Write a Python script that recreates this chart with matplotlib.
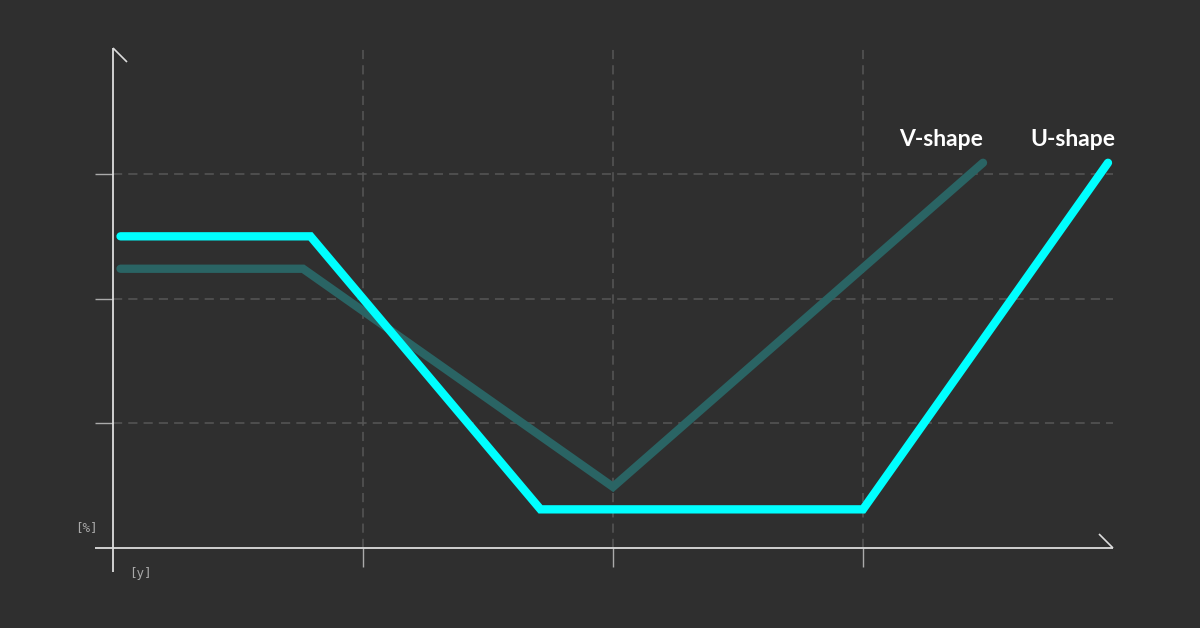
import matplotlib
matplotlib.use("Agg")
import matplotlib.pyplot as plt
from matplotlib.lines import Line2D

# data (x in grid steps, y in grid steps)
u_x = [0.03, 0.79, 1.71, 3.0, 3.98]
u_y = [2.50, 2.50, 0.31, 0.31, 3.09]
v_x = [0.03, 0.76, 2.0, 3.48]
v_y = [2.24, 2.24, 0.49, 3.09]
x_ticks = [1, 2, 3]
y_ticks = [1, 2, 3]
labels = ["V-shape", "U-shape"]

bg = "#2f2f2f"
cyan = "#00ffff"
teal = "#2a6464"
axis_col = "#dddddd"

fig = plt.figure(figsize=(12, 6.28), dpi=100, facecolor=bg)
ax = fig.add_axes([113/1200, 80/628, 1000/1200, 500/628])
ax.set_facecolor(bg)
ax.set_xlim(0, 4)
ax.set_ylim(0, 500/124.67)

# grid
for xv in x_ticks:
    ax.axvline(xv, color="#575757", lw=1.1, ls=(0, (6, 4)), zorder=1)
for yv in y_ticks:
    ax.axhline(yv, color="#575757", lw=1.1, ls=(0, (6, 4)), zorder=1)

ax.plot(v_x, v_y, color=teal, lw=6, solid_capstyle="round",
        solid_joinstyle="miter", zorder=3)
ax.plot(u_x, u_y, color=cyan, lw=6, solid_capstyle="round",
        solid_joinstyle="miter", zorder=4)

for s in ax.spines.values():
    s.set_visible(False)
ax.set_xticks(x_ticks)
ax.set_yticks(y_ticks)
ax.tick_params(axis="x", direction="out", length=14, width=1, color="#aaaaaa",
               labelbottom=False)
ax.tick_params(axis="y", direction="out", length=13, width=1, color="#aaaaaa",
               labelleft=False)

# axes lines drawn in pixels so they poke past the corner
def px(x, y):
    return fig.transFigure.inverted().transform((x, 628 - y))

def seg(p0, p1, lw=1.3):
    a, b = px(*p0), px(*p1)
    fig.add_artist(Line2D([a[0], b[0]], [a[1], b[1]], color=axis_col, lw=lw,
                          transform=fig.transFigure, solid_capstyle="butt"))

seg((113, 48), (113, 572))
seg((113, 48), (127, 62), lw=1.2)
seg((95, 548), (1113, 548))
seg((1113, 548), (1099, 534), lw=1.2)

mono = "DejaVu Sans Mono"
fig.text(*px(86, 528), "[%]", color="#aaaaaa", fontsize=9, family=mono,
         ha="center", va="center")
fig.text(*px(140, 573), "[y]", color="#aaaaaa", fontsize=9, family=mono,
         ha="center", va="center")

lab_font = ["Lato", "DejaVu Sans"]
fig.text(*px(941, 146), labels[0], color="white", fontsize=16.5,
         fontweight="bold", family=lab_font, ha="center", va="baseline")
fig.text(*px(1073, 146), labels[1], color="white", fontsize=16.5,
         fontweight="bold", family=lab_font, ha="center", va="baseline")

fig.savefig("out.png", dpi=100, facecolor=bg)
